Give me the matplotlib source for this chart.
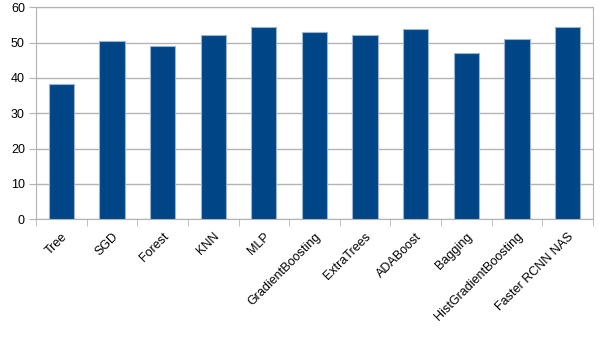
import matplotlib.pyplot as plt
import numpy as np

plt.rcParams['font.family'] = ['Liberation Sans', 'DejaVu Sans']

models = ['Tree', 'SGD', 'Forest', 'KNN', 'MLP', 'GradientBoosting', 'ExtraTrees',
          'ADABoost', 'Bagging', 'HistGradientBoosting', 'Faster RCNN NAS']
scores = [38.3, 50.5, 49.1, 52.1, 54.4, 52.9, 52.2, 53.8, 47.0, 51.1, 54.4]

grid_col = '#b3b3b3'

fig = plt.figure(figsize=(6.05, 3.4), dpi=100)
ax = fig.add_axes([0.0595, 0.355, 0.9205, 0.6235])

x = np.arange(len(models))
ax.bar(x, scores, width=0.5, color='#004586', edgecolor='#9bb4d4', linewidth=0.8, zorder=3)

ax.set_xlim(-0.5, len(models) - 0.5)
ax.set_ylim(0, 60)
ax.set_yticks(range(0, 61, 10))
ax.yaxis.grid(True, color=grid_col, linewidth=1)
ax.set_axisbelow(True)

# category labels under the bars, tick marks between categories
ax.set_xticks(x)
ax.set_xticklabels(models, rotation=45, ha='right', rotation_mode='anchor', fontsize=9)
ax.tick_params(axis='x', length=0, pad=8)
ax.set_xticks(np.arange(-0.5, len(models)), minor=True)
ax.tick_params(axis='x', which='minor', length=5, color=grid_col)
ax.tick_params(axis='y', length=5, color=grid_col, labelsize=9, pad=3)

for s in ax.spines.values():
    s.set_color(grid_col)

fig.savefig('out.png', dpi=100)
